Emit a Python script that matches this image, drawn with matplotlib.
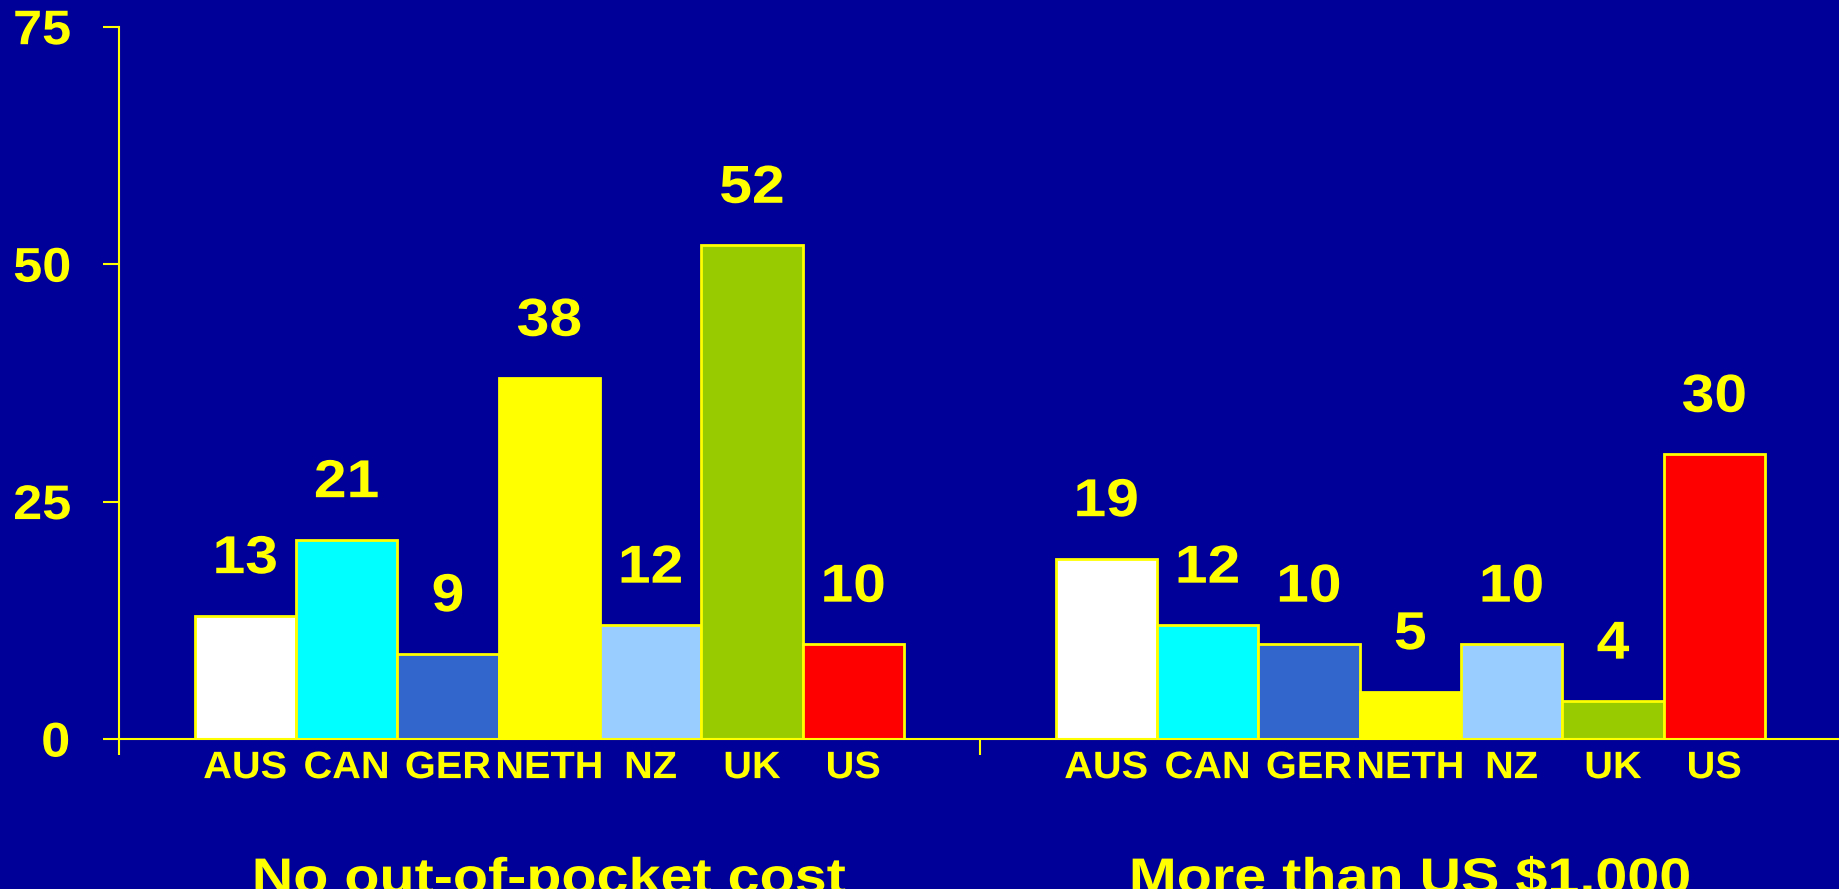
import matplotlib
matplotlib.use('Agg')
import matplotlib.pyplot as plt
from matplotlib.patheffects import AbstractPathEffect
from matplotlib.transforms import Affine2D

countries = ['AUS', 'CAN', 'GER', 'NETH', 'NZ', 'UK', 'US']
no_cost = [13, 21, 9, 38, 12, 52, 10]
over_1000 = [19, 12, 10, 5, 10, 4, 30]
groups = ['No out-of-pocket cost', 'More than US $1,000']
y_ticks = [0, 25, 50, 75]

BG = '#000099'
YELLOW = '#FFFF00'
bar_colors = ['#FFFFFF', '#00FFFF', '#3366CC', '#FFFF00', '#99CCFF', '#99CC00', '#FF0000']
BAR_W = 0.1177


class Widen(AbstractPathEffect):
    # slide lettering is a touch wide, scale glyph paths about their centre
    def __init__(self, sx=1.1):
        super().__init__()
        self.sx = sx

    def draw_path(self, renderer, gc, tpath, affine, rgbFace=None):
        ext = tpath.get_extents()
        cx = (ext.x0 + ext.x1) / 2
        widen = Affine2D().translate(-cx, 0).scale(self.sx, 1).translate(cx, 0)
        renderer.draw_path(gc, tpath, widen + affine, rgbFace)


plt.rcParams['font.family'] = ['Liberation Sans', 'DejaVu Sans']
plt.rcParams['font.weight'] = 'bold'

fig = plt.figure(figsize=(18.39, 8.89), dpi=100, facecolor=BG)
ax = fig.add_axes([118.8 / 1839, 150 / 889, 1722 / 1839, 712.3 / 889])
ax.set_facecolor(BG)

series = [no_cost, over_1000]
centers = []
for g, values in enumerate(series):
    for i, v in enumerate(values):
        x = g + 0.5 + (i - 3) * BAR_W
        centers.append(x)
        ax.bar(x, v, width=BAR_W, color=bar_colors[i], edgecolor=YELLOW,
               linewidth=2, zorder=1)
        ax.annotate(str(v), (x, v), xytext=(0, 30.5), textcoords='offset points',
                    ha='center', va='baseline', fontsize=38.5, color=YELLOW,
                    path_effects=[Widen(1.1)])

for g, title in enumerate(groups):
    ax.text(g + 0.5, -118 / 712.3, title, transform=ax.get_xaxis_transform(),
            ha='center', va='top', fontsize=36, color=YELLOW,
            path_effects=[Widen(1.15)], clip_on=False)

ax.set_xlim(0, 2)
ax.set_ylim(0, 75)

for side in ['top', 'right']:
    ax.spines[side].set_visible(False)
for side in ['left', 'bottom']:
    ax.spines[side].set_color(YELLOW)
    ax.spines[side].set_linewidth(1.5)

ax.set_yticks(y_ticks)
ax.tick_params(axis='y', direction='out', length=11.5, width=1.5, color=YELLOW,
               labelcolor=YELLOW, labelsize=35, pad=24.2)

ax.set_xticks([0, 1, 2])
ax.set_xticklabels([])
ax.set_xticks(centers, minor=True)
ax.set_xticklabels(countries * 2, minor=True)
ax.tick_params(axis='x', which='major', direction='out', length=11.5, width=1.5,
               color=YELLOW)
ax.tick_params(axis='x', which='minor', length=0, labelcolor=YELLOW,
               labelsize=27.5, pad=8)

for lab in ax.get_yticklabels():
    lab.set_path_effects([Widen(1.075)])
for lab in ax.get_xticklabels(minor=True):
    lab.set_path_effects([Widen(1.04)])

fig.savefig('out.png', dpi=100, facecolor=BG)
